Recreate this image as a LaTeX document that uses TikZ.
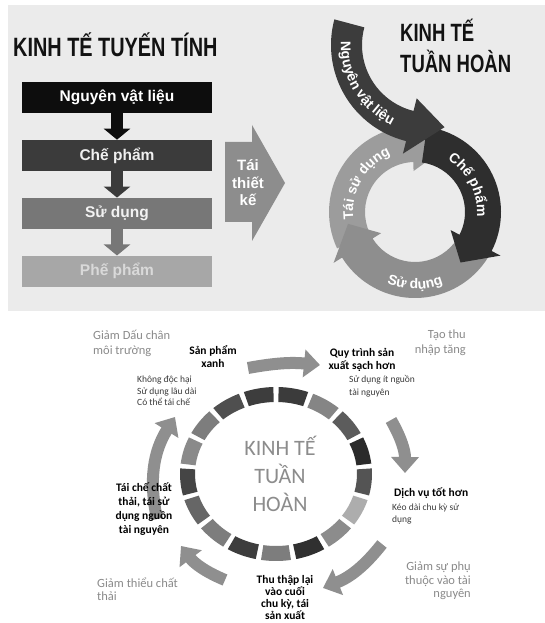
\documentclass[tikz,border=0pt]{standalone}
\usepackage{fontspec}
\setmainfont{Carlito}
\newfontfamily\headfont{Liberation Sans}
\usepackage{graphicx}
\usepackage{xcolor}
\usepackage{tikz}
\usetikzlibrary{calc,positioning,arrows.meta,decorations.text}
\definecolor{panel}{HTML}{EBEBEB}
\definecolor{ink}{HTML}{121212}
\definecolor{boxA}{HTML}{0D0D0D}
\definecolor{boxB}{HTML}{3B3B3B}
\definecolor{boxC}{HTML}{777777}
\definecolor{boxD}{HTML}{A7A7A7}
\definecolor{redo}{HTML}{8D8D8D}
\definecolor{bandN}{HTML}{3C3C3C}
\definecolor{bandC}{HTML}{2E2E2E}
\definecolor{bandS}{HTML}{8E8E8E}
\definecolor{bandT}{HTML}{9C9C9C}
\definecolor{cycarr}{HTML}{8F8F8F}
\definecolor{soft}{HTML}{8A8A8A}
\definecolor{note}{HTML}{3A3A3A}
\definecolor{core}{HTML}{8C8C8C}
\newcommand{\arctext}{\headfont\bfseries\fontsize{14}{14}\selectfont\color{white}}
% centre, inner r, outer r, start, end, tip, head extend, colour
\newcommand{\bandarrow}[8]{%
  \fill[#8] ($(#1)+(#4:#3)$) arc[start angle=#4, end angle=#5, radius=#3]
    -- ($(#1)+(#5:{#3+#7})$) -- ($(#1)+(#6:{(#2+#3)/2})$)
    -- ($(#1)+(#5:{#2-#7})$) -- ($(#1)+(#5:#2)$)
    arc[start angle=#5, end angle=#4, radius=#2] -- cycle;}
\tikzset{
  fbox/.style={minimum width=190pt, minimum height=31pt, inner sep=0pt, font=\headfont\bfseries\fontsize{15.5}{18}\selectfont},
  farrow/.style={line width=12pt, -{Triangle[width=26pt,length=11pt]}},
  carrow/.style={draw=cycarr, line width=12pt, -{Triangle[width=27pt,length=16pt]}},
  bigtitle/.style={text=ink, inner sep=0pt, font=\headfont\bfseries},
  glab/.style={text=soft, inner sep=0pt, font=\fontsize{12.5}{14.5}\selectfont},
  blab/.style={text=black, inner sep=0pt, align=center, font=\bfseries\fontsize{11.5}{13}\selectfont},
  nlab/.style={text=note, inner sep=0pt, align=left, font=\fontsize{9.5}{11.5}\selectfont}
}
\begin{document}
\begin{tikzpicture}[x=1pt, y=1pt]
  \useasboundingbox (0,0) rectangle (545,623);
  \fill[white] (0,0) rectangle (545,623);
  \fill[panel] (8,312) rectangle (545,618);

  % linear economy
  \node[bigtitle, anchor=base west] (lintitle) at (13,566)
    {\scalebox{0.75}[1]{\fontsize{26.5}{26.5}\selectfont KINH TẾ TUYẾN TÍNH}};
  \node[fbox, fill=boxA, text=white] (raw) at (117,525.5) {Nguyên vật liệu};
  \node[fbox, fill=boxB, text=white!94!black, below=26.5pt of raw] (made) {Chế phẩm};
  \node[fbox, fill=boxC, text=white!95!black, below=26.5pt of made] (used) {Sử dụng};
  \node[fbox, fill=boxD, text=white!85!black, below=26.5pt of used] (waste) {Phế phẩm};
  \draw[farrow, draw=boxA] (raw) -- (made);
  \draw[farrow, draw=boxB] (made) -- (used);
  \draw[farrow, draw=boxC] (used) -- (waste);

  \fill[redo] (225,481) -- (252,481) -- (252,498) -- (285,440) -- (252,382) -- (252,401) -- (225,401) -- cycle;
  \node[text=white, align=center, inner sep=0pt, font=\headfont\bfseries\fontsize{15}{17.5}\selectfont] (redesign) at (248,440) {Tái\\thiết\\kế};

  % circular economy
  \node[bigtitle, anchor=base west] (circtitle) at (400,581)
    {\scalebox{0.74}[1]{\fontsize{25}{28}\selectfont\begin{tabular}[t]{@{}l@{}}KINH TẾ\\TUẦN HOÀN\end{tabular}}};
  \coordinate (rc) at (415,411);
  \coordinate (nc) at (430,578);
  \bandarrow{rc}{50}{86}{205}{92}{66}{9}{bandT}
  \bandarrow{rc}{50}{86}{-32}{-148}{-170}{10}{bandS}
  \bandarrow{rc}{50}{86}{82}{-27}{-48}{10}{bandC}
  \bandarrow{nc}{68}{99}{165}{256}{280}{13}{bandN}
  \path[decorate, decoration={text along path, text align=center, text={|\arctext|Tái sử dụng}}]
    ($(rc)+(194:62)$) arc[start angle=194, end angle=106, radius=62];
  \path[decorate, decoration={text along path, text align=center, text={|\arctext|Chế phẩm}}]
    ($(rc)+(66:62)$) arc[start angle=66, end angle=-12, radius=62];
  \path[decorate, decoration={text along path, text align=center, text={|\arctext|Sử dụng}}]
    ($(rc)+(-128:77)$) arc[start angle=-128, end angle=-52, radius=77];
  \path[decorate, decoration={text along path, text align=center, text={|\arctext|Nguyên vật liệu}}]
    ($(nc)+(166:89)$) arc[start angle=166, end angle=256, radius=89];

  % bottom cycle
  \coordinate (cc) at (276,149);
  \foreach \k [count=\i from 0] in {77,48,64,83,67,32,45,81,51,76,51,60,73,46,51,69,76}{
    \pgfmathsetmacro\ta{90-\i*360/17-1.6}
    \pgfmathsetmacro\tb{90-(\i+1)*360/17+1.6}
    \fill[black!\k] ($(cc)+(\ta:96 and 87)$) arc[start angle=\ta, end angle=\tb, x radius=96, y radius=87]
      -- ($(cc)+(\tb:81 and 72)$) arc[start angle=\tb, end angle=\ta, x radius=81, y radius=72] -- cycle;
  }
  \node[text=core, align=center, inner sep=0pt, font=\fontsize{22}{28}\selectfont, anchor=base] (core) at (280,111) {KINH TẾ\\TUẦN\\HOÀN};

  \coordinate (t0) at (248,255); \coordinate (t1) at (320,258);
  \coordinate (r0) at (391,203); \coordinate (r1) at (405,150);
  \coordinate (b0) at (382,79);  \coordinate (b1) at (323,35);
  \coordinate (d0) at (225,43);  \coordinate (d1) at (181,77);
  \coordinate (l0) at (157,104); \coordinate (l1) at (175,206);
  \draw[carrow] (t0) to[bend left=8] (t1);
  \draw[carrow] (r0) to[bend left=15] (r1);
  \draw[carrow] (b0) to[bend left=15] (b1);
  \draw[carrow] (d0) to[bend left=15] (d1);
  \draw[carrow] (l0) to[bend left=22] (l1);

  \node[glab, align=left, anchor=base west] (foot) at (93,268.5) {Giảm Dấu chân\\môi trường};
  \node[glab, align=right, anchor=base east] (income) at (466,269.5) {Tạo thu\\nhập tăng};
  \node[glab, align=right, anchor=base east, font=\fontsize{12.5}{13.5}\selectfont] (depend) at (471,25) {Giảm sự phụ\\thuộc vào tài\\nguyên};
  \node[glab, align=left, anchor=base west, font=\fontsize{12.5}{14}\selectfont] (lesswaste) at (97,22) {Giảm thiểu chất\\thải};

  \node[blab, anchor=base] (green) at (213,255) {Sản phẩm\\xanh};
  \node[nlab, anchor=base west] (greennote) at (137,217) {Không độc hại\\Sử dụng lâu dài\\Có thể tái chế};
  \node[blab, anchor=base] (clean) at (362,253) {Quy trình sản\\xuất sạch hơn};
  \node[nlab, anchor=base west, font=\fontsize{9.5}{12.5}\selectfont] (cleannote) at (349,227.5) {Sử dụng ít nguồn\\tài nguyên};
  \node[blab, anchor=base west] (service) at (394,126) {Dịch vụ tốt hơn};
  \node[nlab, anchor=base west] (servicenote) at (392,100.5) {Kéo dài chu kỳ sử\\dụng};
  \node[blab, anchor=base, font=\bfseries\fontsize{11.5}{12}\selectfont] (collect) at (285,4) {Thu thập lại\\vào cuối\\chu kỳ, tái\\sản xuất};
  \node[blab, anchor=base, font=\bfseries\fontsize{11.5}{14}\selectfont] (recycle) at (144,89) {Tái chế chất\\thải, tái sử\\dụng nguồn\\tài nguyên};
\end{tikzpicture}
\end{document}
